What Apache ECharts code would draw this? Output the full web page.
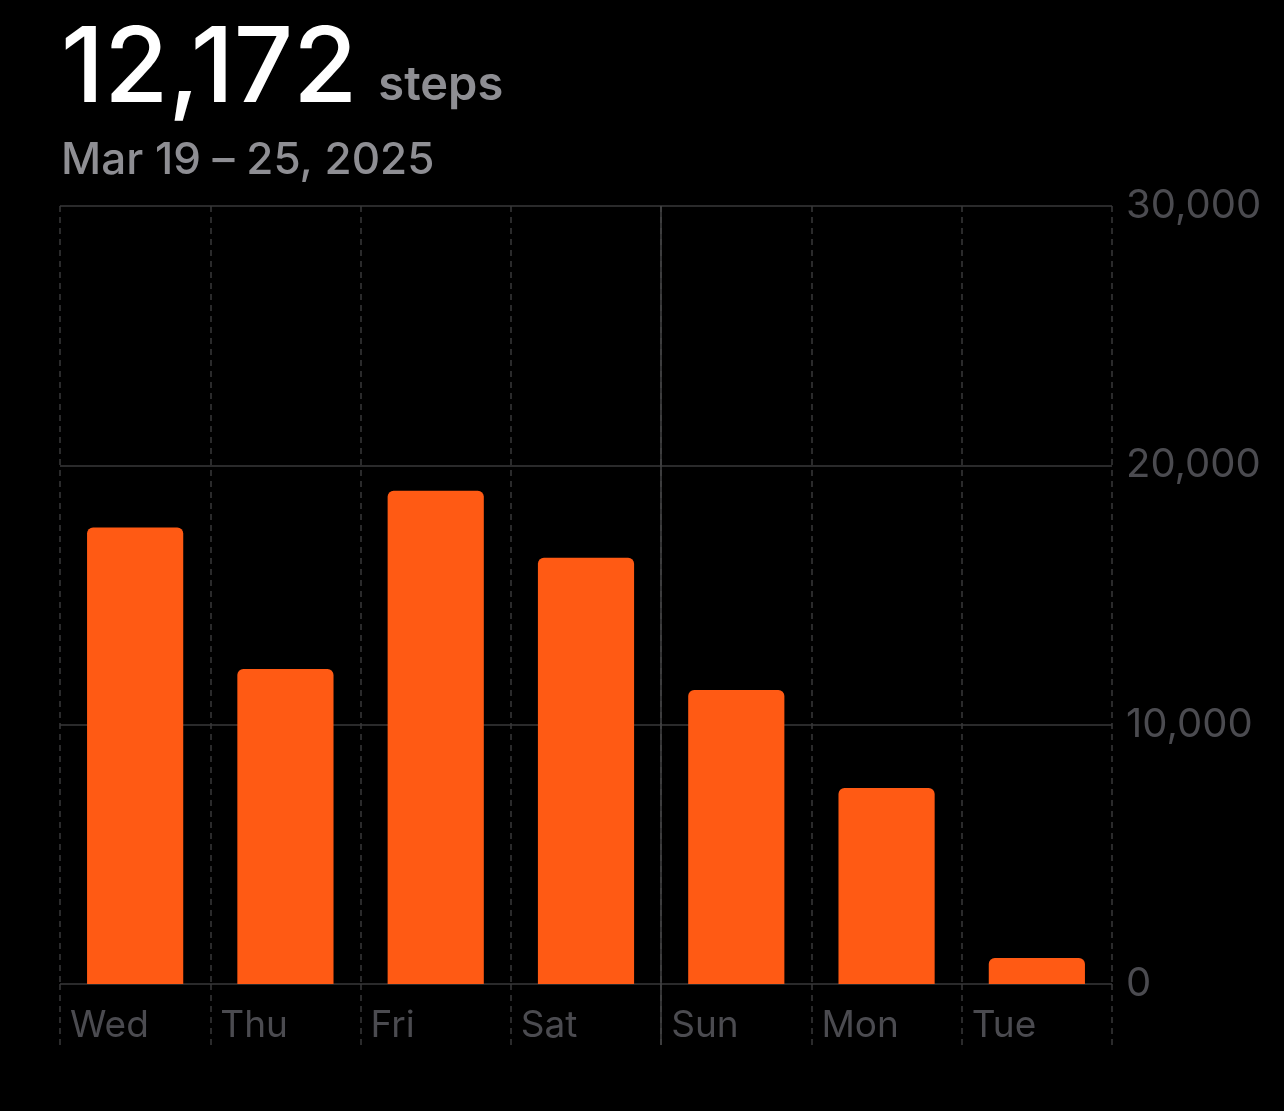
<!DOCTYPE html>
<html><head><meta charset="utf-8">
<script src="https://cdn.jsdelivr.net/npm/echarts@6/dist/echarts.min.js"></script>
<style>html,body{margin:0;padding:0;background:#000;}#c{width:1284px;height:1111px;}</style>
</head><body><div id="c"></div>
<script>
const days = ['Wed','Thu','Fri','Sat','Sun','Mon','Tue'];
const steps = [17600, 12150, 19020, 16440, 11340, 7560, 1000];
const yTicks = [0, 10000, 20000, 30000];
const headline = '12,172';
const unit = 'steps';
const dateRange = 'Mar 19 – 25, 2025';

const chart = echarts.init(document.getElementById('c'));
const FONT = 'Inter, "Noto Sans", sans-serif';
const GRID = '#38383a';
const LABEL = '#4b4b50';
chart.setOption({
  backgroundColor: '#000',
  animation: false,
  title: {
    left: 56, top: 10,
    text: '{num|' + headline + '}{unit|' + unit + '}',
    subtext: dateRange,
    itemGap: 18,
    textStyle: { rich: {
      num: { fontFamily: FONT, fontSize: 104, fontWeight: 500, color: '#ffffff', lineHeight: 112 },
      unit: { fontFamily: FONT, fontSize: 47, fontWeight: 600, color: '#8e8e93', lineHeight: 112, padding: [30, 0, 0, 21] }
    }},
    subtextStyle: { fontFamily: FONT, fontSize: 44, fontWeight: 500, color: '#8e8e93', lineHeight: 48 }
  },
  grid: { left: 60, right: 172, top: 206, bottom: 127, containLabel: false },
  xAxis: [
    { type: 'category', data: days, boundaryGap: true,
      axisLine: { show: false }, axisTick: { show: false }, axisLabel: { show: false }, splitLine: { show: false } },
    { type: 'category', data: days.concat(['']), boundaryGap: false, position: 'bottom',
      axisLine: { show: false },
      axisTick: { show: true, length: 61, interval: 0, lineStyle: { color: GRID, type: [6, 5], width: 1.5 } },
      splitLine: { show: true, interval: 0, lineStyle: { color: GRID, type: [6, 5], width: 1.5 } },
      axisLabel: { show: true, interval: 0, align: 'left', verticalAlign: 'middle', margin: 42,
        padding: [0, 0, 0, 10], fontFamily: FONT, fontSize: 37, color: LABEL } },
    { type: 'value', min: 0, max: 7, position: 'bottom',
      axisLine: { show: false }, axisLabel: { show: false },
      axisTick: { show: true, customValues: [4], length: 61, lineStyle: { color: '#444446', width: 1.5 } },
      splitLine: { show: false } }
  ],
  yAxis: {
    type: 'value', position: 'right', min: 0, max: 30000, interval: 10000,
    axisLine: { show: false }, axisTick: { show: false },
    splitLine: { show: true, lineStyle: { color: GRID, width: 1.5 } },
    axisLabel: { margin: 14, fontFamily: FONT, fontSize: 40, color: LABEL, padding: [4, 0, 0, 0],
      formatter: v => yTicks.includes(v) ? v.toLocaleString('en-US') : '' }
  },
  series: [
    { type: 'bar', xAxisIndex: 0, data: steps, barCategoryGap: '36%',
      itemStyle: { color: '#ff5a14', borderRadius: [6, 6, 0, 0] } },
    { type: 'line', xAxisIndex: 2, data: [], silent: true,
      markLine: { symbol: 'none', silent: true, label: { show: false },
        lineStyle: { color: '#444446', type: 'solid', width: 1.5 },
        data: [{ xAxis: 4 }] } }
  ]
});
</script></body></html>
